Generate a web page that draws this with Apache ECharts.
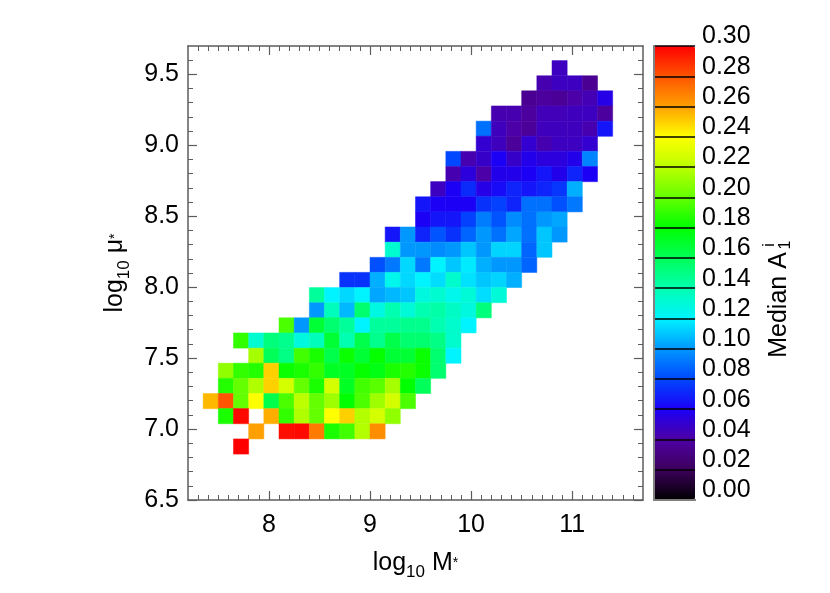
<!DOCTYPE html>
<html><head><meta charset="utf-8">
<script src="https://cdn.jsdelivr.net/npm/echarts@6/dist/echarts.min.js"></script>
<style>html,body{margin:0;padding:0;background:#fff}#c{width:830px;height:593px}</style>
</head><body><div id="c"></div>
<script>
// ---------------- data ----------------
const xBinCenters = [7.425, 7.575, 7.725, 7.875, 8.025, 8.175, 8.325, 8.475, 8.625, 8.775, 8.925,
  9.075, 9.225, 9.375, 9.525, 9.675, 9.825, 9.975, 10.125, 10.275, 10.425, 10.575, 10.725,
  10.875, 11.025, 11.175, 11.325];
// row centres, top row first
const yBinCenters = [9.544, 9.437, 9.331, 9.224, 9.117, 9.011, 8.904, 8.797, 8.691, 8.584, 8.477,
  8.371, 8.264, 8.157, 8.051, 7.944, 7.837, 7.731, 7.624, 7.517, 7.411, 7.304, 7.197, 7.091,
  6.984, 6.877];
const xBinWidth = 0.15;
const yBinHeight = 0.1067;
// first occupied column of each row (top row first)
const rowStartColumn = [23, 22, 21, 19, 18, 18, 16, 16, 15, 14, 14, 12, 12, 11, 9, 7, 7, 5, 2, 3, 1, 1, 0, 1, 3, 2];
// median A1 values of each row, starting at rowStartColumn
const rowValues = [
  [0.047],
  [0.043, 0.047, 0.047, 0.035],
  [0.035, 0.038, 0.036, 0.041, 0.044, 0.056],
  [0.043, 0.043, 0.038, 0.045, 0.045, 0.046, 0.047, 0.038],
  [0.090, 0.046, 0.041, 0.037, 0.046, 0.046, 0.046, 0.043, 0.066],
  [0.051, 0.046, 0.037, 0.051, 0.043, 0.047, 0.047, 0.051],
  [0.080, 0.043, 0.049, 0.060, 0.049, 0.057, 0.054, 0.054, 0.057, 0.095],
  [0.043, 0.054, 0.041, 0.057, 0.057, 0.060, 0.066, 0.057, 0.070, 0.060],
  [0.047, 0.060, 0.072, 0.056, 0.063, 0.070, 0.066, 0.070, 0.075, 0.105],
  [0.066, 0.060, 0.060, 0.060, 0.074, 0.078, 0.070, 0.090, 0.090, 0.082, 0.092],
  [0.060, 0.066, 0.066, 0.078, 0.093, 0.083, 0.097, 0.090, 0.100, 0.103],
  [0.066, 0.100, 0.070, 0.083, 0.074, 0.087, 0.100, 0.090, 0.103, 0.090, 0.110, 0.100],
  [0.132, 0.100, 0.100, 0.097, 0.100, 0.110, 0.100, 0.113, 0.113, 0.087, 0.110],
  [0.082, 0.092, 0.114, 0.092, 0.120, 0.110, 0.118, 0.105, 0.100, 0.100, 0.087],
  [0.074, 0.074, 0.105, 0.125, 0.114, 0.120, 0.115, 0.133, 0.116, 0.110, 0.113, 0.105],
  [0.145, 0.120, 0.114, 0.120, 0.103, 0.107, 0.110, 0.128, 0.132, 0.125, 0.130, 0.115, 0.130],
  [0.100, 0.137, 0.107, 0.155, 0.127, 0.140, 0.130, 0.140, 0.142, 0.135, 0.128, 0.152],
  [0.195, 0.100, 0.168, 0.155, 0.145, 0.120, 0.145, 0.145, 0.148, 0.148, 0.140, 0.133, 0.120],
  [0.190, 0.132, 0.152, 0.148, 0.128, 0.137, 0.168, 0.140, 0.163, 0.148, 0.163, 0.155, 0.155, 0.150, 0.133],
  [0.215, 0.160, 0.150, 0.193, 0.185, 0.163, 0.182, 0.168, 0.181, 0.168, 0.168, 0.182, 0.155, 0.120],
  [0.210, 0.190, 0.187, 0.250, 0.182, 0.185, 0.190, 0.172, 0.172, 0.181, 0.176, 0.185, 0.187, 0.182, 0.155],
  [0.187, 0.200, 0.217, 0.250, 0.227, 0.200, 0.185, 0.227, 0.172, 0.193, 0.198, 0.215, 0.180, 0.160],
  [0.255, 0.280, 0.200, 0.240, 0.163, 0.195, 0.220, 0.200, 0.213, 0.180, 0.195, 0.213, 0.227, 0.195],
  [0.185, 0.298, null, 0.257, 0.190, 0.217, 0.200, 0.240, 0.250, 0.218, 0.227, 0.210],
  [0.260, null, 0.297, 0.298, 0.270, 0.185, 0.193, 0.218, 0.265],
  [0.300]
];
const xTickValues = [8, 9, 10, 11];
const yTickValues = [6.5, 7.0, 7.5, 8.0, 8.5, 9.0, 9.5];
const colorbarMin = 0, colorbarMax = 0.30, colorbarStep = 0.02;
const colormap = ['#000000', '#3c005c', '#4e00a4', '#1c00f6', '#0048ff', '#0098ff', '#00f4ff',
  '#00ffb0', '#00ff58', '#00ff00', '#64ff00', '#bcff00', '#ffff00', '#ffa000', '#ff5400', '#ff0000'];

// ---------------- build ----------------
const cells = [];
rowValues.forEach((vals, r) => vals.forEach((v, k) => {
  if (v !== null) cells.push([xBinCenters[rowStartColumn[r] + k], yBinCenters[r], v]);
}));
const xMinor = [], yMinor = [];
for (let i = 73; i <= 116; i++) if (i % 10 !== 0) xMinor.push(i / 10);
for (let i = 66; i <= 96; i++) if (i % 5 !== 0) yMinor.push(i / 10);

const FONT = 'Liberation Sans, Helvetica, Arial, sans-serif';
const FS = 25;
const frameColor = '#5c5c5c';
const XMIN = 7.2, XMAX = 11.7, YMIN = 6.5, YMAX = 9.7;

function frameAxis(extra) {
  return Object.assign({
    type: 'value', gridIndex: 0, min: XMIN, max: XMAX,
    axisLine: { show: true, onZero: false, lineStyle: { color: frameColor, width: 1.5 } },
    splitLine: { show: false }, axisLabel: { show: false }
  }, extra);
}
const majorTick = (vals) => ({ show: true, inside: true, length: 9, customValues: vals, lineStyle: { color: frameColor, width: 1.2 } });
const minorTick = (vals) => ({ show: true, inside: true, length: 5, customValues: vals, lineStyle: { color: frameColor, width: 1 } });
const titleRich = {
  t: { fontSize: FS, fontFamily: FONT, color: '#000', lineHeight: 36 },
  s: { fontSize: 17, fontFamily: FONT, color: '#000', lineHeight: 17, verticalAlign: 'bottom' },
  st: { fontSize: 14, fontFamily: FONT, color: '#000', lineHeight: 14 }
};

const xAxes = [
  frameAxis({ position: 'bottom', axisTick: majorTick(xTickValues),
    axisLabel: { show: true, customValues: xTickValues, fontSize: FS, fontFamily: FONT, color: '#000', margin: 13,
      formatter: v => String(Math.round(v)) },
    name: '{t|log}{s|10}{t| M}{st|*}', nameLocation: 'middle', nameGap: 45,
    nameTextStyle: { rich: titleRich } }),
  frameAxis({ position: 'bottom', axisLine: { show: false }, axisTick: minorTick(xMinor) }),
  frameAxis({ position: 'top', axisTick: majorTick(xTickValues) }),
  frameAxis({ position: 'top', axisLine: { show: false }, axisTick: minorTick(xMinor) }),
  { type: 'value', gridIndex: 1, position: 'bottom', min: 0, max: 1, z: 6,
    axisLine: { show: true, lineStyle: { color: '#808080', width: 2 } }, axisTick: { show: false },
    axisLabel: { show: false }, splitLine: { show: false } },
  { type: 'value', gridIndex: 1, position: 'top', min: 0, max: 1, z: 6,
    axisLine: { show: true, lineStyle: { color: '#808080', width: 2 } }, axisTick: { show: false },
    axisLabel: { show: false }, splitLine: { show: false } }
];
const yAxes = [
  frameAxis({ position: 'left', min: YMIN, max: YMAX, axisTick: majorTick(yTickValues),
    axisLabel: { show: true, customValues: yTickValues, fontSize: FS, fontFamily: FONT, color: '#000', margin: 9,
      formatter: v => v.toFixed(1) },
    name: '{t|log}{s|10}{t| μ}{st|*}', nameLocation: 'middle', nameGap: 55, nameRotate: 90,
    nameTextStyle: { rich: titleRich } }),
  frameAxis({ position: 'left', min: YMIN, max: YMAX, axisLine: { show: false }, axisTick: minorTick(yMinor) }),
  frameAxis({ position: 'right', min: YMIN, max: YMAX, axisTick: majorTick(yTickValues) }),
  frameAxis({ position: 'right', min: YMIN, max: YMAX, axisLine: { show: false }, axisTick: minorTick(yMinor) }),
  { type: 'value', gridIndex: 1, position: 'left', min: colorbarMin, max: colorbarMax, z: 6,
    axisLine: { show: true, lineStyle: { color: '#808080', width: 2 } }, axisTick: { show: false },
    axisLabel: { show: false }, splitLine: { show: false } },
  { type: 'value', gridIndex: 1, position: 'right', min: colorbarMin, max: colorbarMax, interval: colorbarStep, z: 6,
    axisLine: { show: true, lineStyle: { color: '#808080', width: 2 } }, axisTick: { show: false },
    axisLabel: { show: true, fontSize: FS, fontFamily: FONT, color: '#000', margin: 7,
      verticalAlign: 'bottom', lineHeight: 19, formatter: v => v.toFixed(2) },
    splitLine: { show: true, lineStyle: { color: '#000', width: 1.5 } } }
];

const chart = echarts.init(document.getElementById('c'), null, { renderer: 'canvas' });
chart.setOption({
  animation: false,
  backgroundColor: '#fff',
  grid: [
    { left: 188, top: 46, width: 455, height: 454 },
    { left: 654, top: 46, width: 41, height: 454 }
  ],
  xAxis: xAxes,
  yAxis: yAxes,
  visualMap: {
    type: 'continuous', min: colorbarMin, max: colorbarMax, dimension: 2, seriesIndex: 0,
    orient: 'vertical', left: 654, top: 46, itemWidth: 41, itemHeight: 454, padding: 0,
    calculable: false, hoverLink: false, inRange: { color: colormap }, textStyle: { color: 'transparent' }
  },
  series: [{
    type: 'custom', xAxisIndex: 0, yAxisIndex: 0, data: cells, encode: { x: 0, y: 1 },
    renderItem: function (params, api) {
      const x = api.value(0), y = api.value(1);
      const p1 = api.coord([x - xBinWidth / 2, y + yBinHeight / 2]);
      const p2 = api.coord([x + xBinWidth / 2, y - yBinHeight / 2]);
      const c = api.visual('color');
      return { type: 'rect', shape: { x: p1[0], y: p1[1], width: p2[0] - p1[0], height: p2[1] - p1[1] },
        style: { fill: c, stroke: c, lineWidth: 0.5 } };
    }
  }],
  graphic: [
    { type: 'text', x: 779, y: 305, rotation: Math.PI / 2,
      style: { text: 'Median A', font: FS + 'px ' + FONT, fill: '#000', align: 'center', verticalAlign: 'middle' } },
    { type: 'text', x: 770, y: 245, rotation: Math.PI / 2,
      style: { text: 'i', font: '16px ' + FONT, fill: '#000', align: 'center', verticalAlign: 'middle' } },
    { type: 'text', x: 786, y: 245, rotation: Math.PI / 2,
      style: { text: '1', font: '16px ' + FONT, fill: '#000', align: 'center', verticalAlign: 'middle' } }
  ]
});
</script></body></html>
